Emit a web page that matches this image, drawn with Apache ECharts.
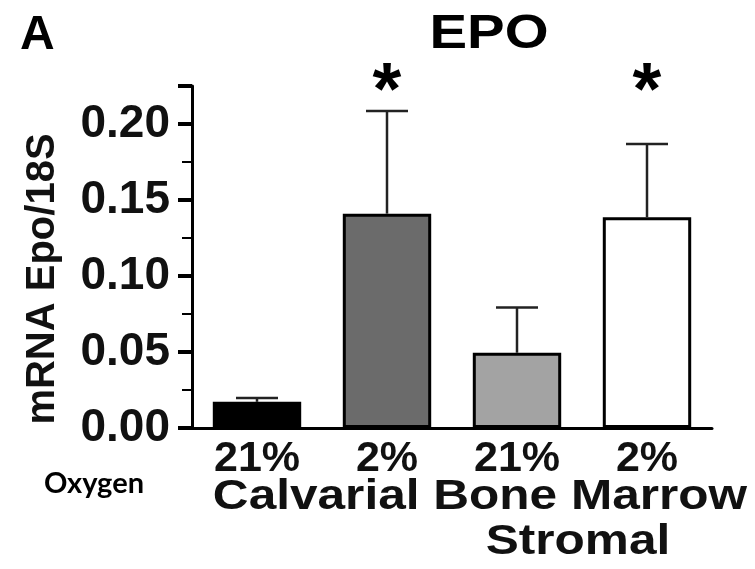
<!DOCTYPE html>
<html>
<head>
<meta charset="utf-8">
<script src="https://cdn.jsdelivr.net/npm/echarts@6/dist/echarts.min.js"></script>
<style>
html,body{margin:0;padding:0;background:#fff;}
#chart{width:755px;height:569px;}
</style>
</head>
<body>
<div id="chart"></div>
<script>
// ---- data ----
var categories = ['21%', '2%', '21%', '2%'];
var values = [0.0172, 0.1410, 0.0495, 0.1386];
var errors = [0.0026, 0.0676, 0.0297, 0.0482];
var significance = ['', '*', '', '*'];
var barColors = ['#000000', '#6b6b6b', '#a3a3a3', '#ffffff'];
var yTickValues = [0.00, 0.05, 0.10, 0.15, 0.20];

var FONT = '"Liberation Sans", Arial, Helvetica, sans-serif';

var chart = echarts.init(document.getElementById('chart'), null, {renderer: 'canvas'});

var barData = values.map(function (v, i) {
  return {value: v, itemStyle: {color: barColors[i]}};
});
var errData = values.map(function (v, i) {
  return [i, v, v + errors[i], significance[i]];
});

var option = {
  backgroundColor: '#ffffff',
  animation: false,
  grid: {left: 192, right: 43, top: 86, bottom: 141, containLabel: false},
  xAxis: {
    type: 'category',
    data: categories,
    axisLine: {show: true, lineStyle: {color: '#000', width: 3}},
    axisTick: {show: false},
    axisLabel: {color: '#111', fontFamily: FONT, fontWeight: 'bold', fontSize: 43, margin: 10}
  },
  yAxis: [{
    type: 'value',
    min: 0, max: 0.225, interval: 0.025,
    name: 'mRNA Epo/18S',
    nameLocation: 'middle',
    nameGap: 129,
    nameTextStyle: {color: '#111', fontFamily: FONT, fontWeight: 'bold', fontSize: 40, padding: [0, 44, 0, 0]},
    axisLine: {show: true, lineStyle: {color: '#000', width: 3}},
    axisTick: {show: true, length: 10, lineStyle: {color: '#000', width: 2}},
    axisLabel: {show: false},
    splitLine: {show: false}
  }, {
    type: 'value',
    min: 0, max: 0.225, interval: 0.05,
    position: 'left',
    axisLine: {show: false},
    axisTick: {show: true, length: 14, lineStyle: {color: '#000', width: 4}},
    axisLabel: {
      color: '#111', fontFamily: FONT, fontWeight: 'bold', fontSize: 46, margin: 22,
      formatter: function (v) {
        for (var k = 0; k < yTickValues.length; k++) {
          if (Math.abs(yTickValues[k] - v) < 1e-9) return yTickValues[k].toFixed(2);
        }
        return '';
      }
    },
    splitLine: {show: false}
  }],
  series: [{
    type: 'bar',
    data: barData,
    barWidth: '68%',
    itemStyle: {borderColor: '#000', borderWidth: 3},
    z: 2
  }, {
    type: 'custom',
    data: errData,
    z: 5,
    renderItem: function (params, api) {
      var i = api.value(0);
      var lo = api.coord([i, api.value(1)]);
      var hi = api.coord([i, api.value(2)]);
      var capHalf = 21;
      var children = [{
        type: 'line',
        shape: {x1: lo[0], y1: lo[1], x2: hi[0], y2: hi[1]},
        style: {stroke: '#222', lineWidth: 2.5}
      }, {
        type: 'line',
        shape: {x1: hi[0] - capHalf, y1: hi[1], x2: hi[0] + capHalf, y2: hi[1]},
        style: {stroke: '#222', lineWidth: 2.5}
      }];
      var sig = significance[params.dataIndex];
      if (sig) {
        var top = api.coord([i, 0.225]);
        children.push({
          type: 'text',
          x: top[0], y: top[1] + 8,
          style: {text: sig, align: 'center', verticalAlign: 'middle', font: 'bold 74px ' + FONT, fill: '#000'}
        });
      }
      return {type: 'group', children: children};
    }
  }],
  graphic: [
    {type: 'text', x: 20, y: 36, style: {text: 'A', align: 'left', verticalAlign: 'middle', font: 'bold 48px ' + FONT, fill: '#000'}},
    {type: 'text', x: 489, y: 34, scaleX: 1.15, style: {text: 'EPO', align: 'center', verticalAlign: 'middle', font: 'bold 49px ' + FONT, fill: '#000'}},
    {type: 'text', x: 94, y: 484, style: {text: 'Oxygen', align: 'center', verticalAlign: 'middle', font: 'bold 29px Lato, "Open Sans", sans-serif', fill: '#000'}},
    {type: 'text', x: 480, y: 497, scaleX: 1.18, style: {text: 'Calvarial Bone Marrow', align: 'center', verticalAlign: 'middle', font: 'bold 42px ' + FONT, fill: '#111'}},
    {type: 'text', x: 578, y: 542, scaleX: 1.18, style: {text: 'Stromal', align: 'center', verticalAlign: 'middle', font: 'bold 42px ' + FONT, fill: '#111'}}
  ]
};
chart.setOption(option);
</script>
</body>
</html>
